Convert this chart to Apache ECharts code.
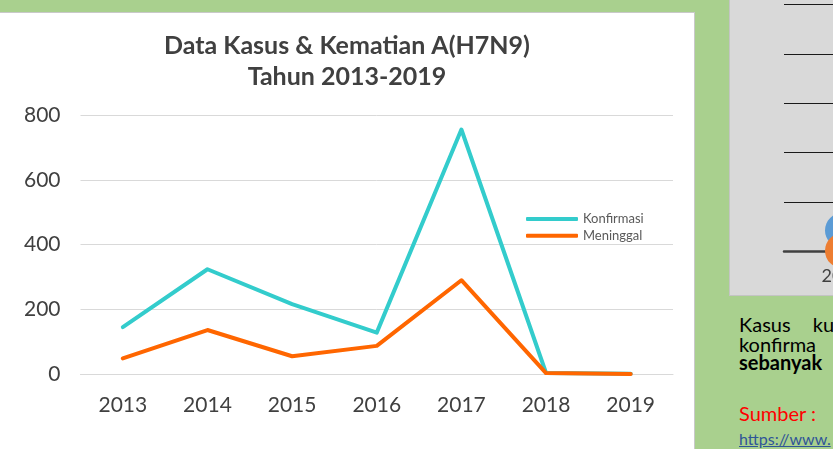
<!DOCTYPE html>
<html>
<head>
<meta charset="utf-8">
<script src="https://cdn.jsdelivr.net/npm/echarts@6/dist/echarts.min.js"></script>
<style>
  html, body { margin: 0; padding: 0; width: 833px; height: 449px; overflow: hidden; background: #A9D08E; font-family: Lato, sans-serif; }
  #card { position: absolute; left: 0; top: 12px; width: 694px; height: 437px; background: #fff; border-top: 1px solid #c9c9c9; border-right: 1px solid #c9c9c9; }
  #chart { position: absolute; left: 0; top: 0; width: 694px; height: 437px; }
  #side { position: absolute; left: 729px; top: -2px; width: 200px; height: 296px; background: #D9D9D9; border: 1px solid #c4c4c4; }
  #mini { position: absolute; left: 730px; top: 0; width: 200px; height: 294px; }
  .note { position: absolute; left: 739px; white-space: nowrap; font-size: 20px; line-height: 19.5px; color: #000; }
</style>
</head>
<body>
<div id="card"><div id="chart"></div></div>
<div id="side"></div>
<div id="mini"></div>
<div class="note" style="top:315px;word-spacing:17px">Kasus ku</div>
<div class="note" style="top:334.5px">konfirma</div>
<div class="note" style="top:353px;font-weight:bold">sebanyak</div>
<div class="note" style="top:404px;color:#ff0000">Sumber :</div>
<div class="note" style="top:429px;font-size:16px;color:#2f5597;text-decoration:underline">https://www.</div>
<script>
// ── Data Kasus & Kematian A(H7N9) 2013-2019 ──

const years = ['2013', '2014', '2015', '2016', '2017', '2018', '2019'];
const konfirmasi = [145, 324, 216, 128, 756, 3, 1];
const meninggal = [48, 136, 55, 87, 290, 3, 0];
const yTicks = { min: 0, max: 800, step: 200 };

// cropped neighbour chart on the right (only its first point shows)
const miniCats = ['2013'];
const miniBlue = [0.43];
const miniOrange = [0.02];

const txt = '#404040';

const chart = echarts.init(document.getElementById('chart'));
chart.setOption({
  backgroundColor: 'transparent',
  animation: false,
  title: {
    text: 'Data Kasus & Kematian A(H7N9)\nTahun 2013-2019',
    left: 'center', top: 12,
    textStyle: { fontFamily: 'Lato', fontSize: 25, fontWeight: 'bold', color: txt, lineHeight: 31 },
  },
  legend: {
    orient: 'vertical', left: 521, top: 194, itemWidth: 52, itemHeight: 4, itemGap: 2.7,
    icon: 'roundRect',
    textStyle: { fontFamily: 'Lato', fontSize: 13, color: '#595959', lineHeight: 14 },
    data: ['Konfirmasi', 'Meninggal'],
  },
  grid: { left: 80.5, right: 21, top: 102.3, bottom: 76 },
  xAxis: {
    type: 'category', data: years, boundaryGap: true,
    axisLine: { lineStyle: { color: '#D9D9D9', width: 1 } },
    axisTick: { show: false },
    axisLabel: { fontFamily: 'Lato', fontSize: 21, color: txt, margin: 21 },
  },
  yAxis: {
    type: 'value', min: yTicks.min, max: yTicks.max, interval: yTicks.step,
    axisLine: { show: false }, axisTick: { show: false },
    axisLabel: { fontFamily: 'Lato', fontSize: 21, color: txt, margin: 20 },
    splitLine: { lineStyle: { color: '#D9D9D9', width: 1 } },
  },
  series: [
    { name: 'Konfirmasi', type: 'line', data: konfirmasi, symbol: 'none', color: '#33CCCC',
      lineStyle: { width: 4, cap: 'round', join: 'round' } },
    { name: 'Meninggal', type: 'line', data: meninggal, symbol: 'none', color: '#FF6600',
      lineStyle: { width: 4, cap: 'round', join: 'round' } },
  ],
});

const mini = echarts.init(document.getElementById('mini'));
mini.setOption({
  backgroundColor: 'transparent',
  animation: false,
  grid: { left: 54, top: 4.3, bottom: 42.3, width: 117 },
  xAxis: {
    type: 'category', data: miniCats, boundaryGap: true,
    axisLine: { lineStyle: { color: '#404040', width: 2.5 } },
    axisTick: { show: false },
    axisLabel: { fontFamily: 'Lato', fontSize: 18, color: txt, margin: 15 },
  },
  yAxis: {
    type: 'value', min: 0, max: 5, interval: 1,
    axisLabel: { show: false }, axisLine: { show: false }, axisTick: { show: false },
    splitLine: { lineStyle: { color: '#1a1a1a', width: 1 } },
  },
  series: [
    { type: 'scatter', data: miniBlue, symbolSize: 35, itemStyle: { color: '#5B9BD5', opacity: 1 } },
    { type: 'scatter', data: miniOrange, symbolSize: 35, itemStyle: { color: '#ED7D31', opacity: 1 } },
  ],
});
</script>
</body>
</html>
